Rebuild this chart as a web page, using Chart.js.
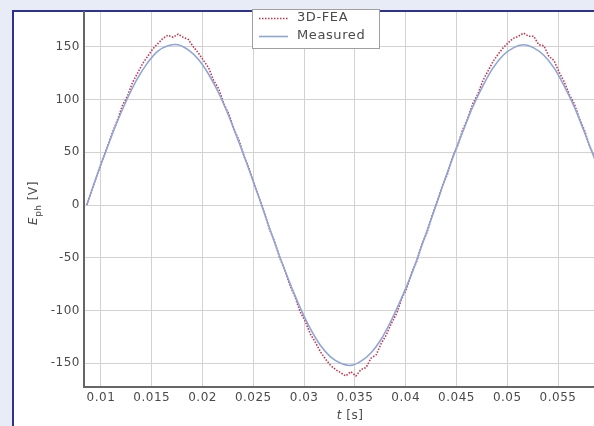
<!DOCTYPE html>
<html>
<head>
<meta charset="utf-8">
<script src="https://cdn.jsdelivr.net/npm/chart.js@4/dist/chart.umd.min.js"></script>
<style>
  html, body { margin: 0; padding: 0; overflow: hidden; }
  body { width: 594px; height: 426px; background: #e8ecf6; position: relative; }
  #frame { position: absolute; left: 12px; top: 10px; width: 600px; height: 430px;
           background: #fff; border-left: 2px solid #2e3290; border-top: 2px solid #2e3290; }
  #myChart { position: absolute; left: 0; top: 0; }
</style>
</head>
<body>
<div id="frame"></div>
<canvas id="myChart" width="594" height="426"></canvas>
<script>
// time axis values [s]
var tMeas = [0.0086, 0.0096, 0.0106, 0.0116, 0.0126, 0.0136, 0.0146, 0.0156, 0.0166, 0.0176,
  0.0186, 0.0196, 0.0206, 0.0216, 0.0226, 0.0236, 0.0246, 0.0256, 0.0266, 0.0276,
  0.0286, 0.0296, 0.0306, 0.0316, 0.0326, 0.0336, 0.0346, 0.0356, 0.0366, 0.0376,
  0.0386, 0.0396, 0.0406, 0.0416, 0.0426, 0.0436, 0.0446, 0.0456, 0.0466, 0.0476,
  0.0486, 0.0496, 0.0506, 0.0516, 0.0526, 0.0536, 0.0546, 0.0556, 0.0566, 0.0576, 0.0586];
var measured = [0, 28, 54, 79, 101, 120, 135, 146, 151, 152,
  147, 138, 124, 106, 84, 59, 33, 6, -22, -49,
  -74, -97, -117, -133, -144, -150, -152, -148, -140, -127,
  -109, -88, -65, -38, -11, 17, 44, 69, 93, 113,
  130, 142, 149, 152, 149, 142, 130, 113, 93, 69, 44];

var tFea = [0.0086, 0.0091, 0.0096, 0.0101, 0.0106, 0.0111, 0.0116, 0.0121, 0.0126, 0.0131,
  0.0136, 0.0141, 0.0146, 0.0151, 0.0156, 0.0161, 0.0166, 0.0171, 0.0176, 0.0181,
  0.0186, 0.0191, 0.0196, 0.0201, 0.0206, 0.0211, 0.0216, 0.0221, 0.0226, 0.0231,
  0.0236, 0.0241, 0.0246, 0.0251, 0.0256, 0.0261, 0.0266, 0.0271, 0.0276, 0.0281,
  0.0286, 0.0291, 0.0296, 0.0301, 0.0306, 0.0311, 0.0316, 0.0321, 0.0326, 0.0331,
  0.0336, 0.0341, 0.0346, 0.0351, 0.0356, 0.0361, 0.0366, 0.0371, 0.0376, 0.0381,
  0.0386, 0.0391, 0.0396, 0.0401, 0.0406, 0.0411, 0.0416, 0.0421, 0.0426, 0.0431,
  0.0436, 0.0441, 0.0446, 0.0451, 0.0456, 0.0461, 0.0466, 0.0471, 0.0476, 0.0481,
  0.0486, 0.0491, 0.0496, 0.0501, 0.0506, 0.0511, 0.0516, 0.0521, 0.0526, 0.0531,
  0.0536, 0.0541, 0.0546, 0.0551, 0.0556, 0.0561, 0.0566, 0.0571, 0.0576, 0.0581, 0.0586];
var fea = [0, 14, 28, 42, 54, 68, 80, 94, 103, 116,
  125, 134, 141, 148, 153, 158, 161, 159, 162, 159,
  157, 150, 144, 137, 130, 118, 110, 96, 86, 72,
  61, 46, 34, 19, 6, -8, -23, -35, -50, -62,
  -76, -87, -101, -110, -122, -130, -139, -146, -152, -156,
  -159, -162, -158, -162, -156, -154, -145, -142, -131, -123,
  -112, -103, -89, -79, -64, -53, -37, -26, -10, 3,
  18, 29, 45, 56, 71, 82, 96, 105, 118, 127,
  136, 143, 149, 154, 158, 160, 163, 160, 160, 152,
  151, 141, 137, 126, 117, 105, 96, 82, 71, 56, 45];

var xTicks = [0.01, 0.015, 0.02, 0.025, 0.03, 0.035, 0.04, 0.045, 0.05, 0.055];
var yTicks = [-150, -100, -50, 0, 50, 100, 150];
var seriesNames = ["3D-FEA", "Measured"];

var feaColor = "#c8334c";
var measColor = "#8ea6d6";
var textColor = "#4a4a4a";

function toPoints(xs, ys) {
  var pts = [];
  for (let i = 0; i < xs.length; i++) {
    pts.push({ x: xs[i], y: ys[i] });
  }
  return pts;
}

// axis titles + legend box
var extras = {
  id: "extras",
  beforeDraw: (chart) => {
    chart.ctx.letterSpacing = "0.5px";
  },
  afterDraw: (chart) => {
    let ctx = chart.ctx;
    ctx.save();
    ctx.letterSpacing = "0.5px";
    // x title
    ctx.fillStyle = textColor;
    ctx.textBaseline = "middle";
    ctx.font = "italic 12px 'DejaVu Sans', sans-serif";
    let w1 = ctx.measureText("t").width;
    ctx.font = "12px 'DejaVu Sans', sans-serif";
    let w2 = ctx.measureText(" [s]").width;
    let x0 = 350 - (w1 + w2) / 2;
    ctx.textAlign = "left";
    ctx.font = "italic 12px 'DejaVu Sans', sans-serif";
    ctx.fillText("t", x0, 416);
    ctx.font = "12px 'DejaVu Sans', sans-serif";
    ctx.fillText(" [s]", x0 + w1, 416);

    // y title, rotated
    ctx.translate(34, 203);
    ctx.rotate(-Math.PI / 2);
    ctx.font = "italic 12px 'DejaVu Sans', sans-serif";
    let a = ctx.measureText("E").width;
    ctx.font = "9px 'DejaVu Sans', sans-serif";
    let b = ctx.measureText("ph").width;
    ctx.font = "12px 'DejaVu Sans', sans-serif";
    let c = ctx.measureText(" [V]").width;
    let s = -(a + b + c) / 2;
    ctx.font = "italic 12px 'DejaVu Sans', sans-serif";
    ctx.fillText("E", s, 0);
    ctx.font = "9px 'DejaVu Sans', sans-serif";
    ctx.fillText("ph", s + a, 5);
    ctx.font = "12px 'DejaVu Sans', sans-serif";
    ctx.fillText(" [V]", s + a + b, 0);
    ctx.restore();

    // legend
    ctx.save();
    ctx.fillStyle = "#fff";
    ctx.fillRect(252, 10, 127, 39);
    ctx.strokeStyle = "#a0a0a0";
    ctx.lineWidth = 1;
    ctx.strokeRect(252.5, 9.5, 127, 39);
    ctx.lineWidth = 1.6;
    ctx.strokeStyle = feaColor;
    ctx.setLineDash([1.5, 1.5]);
    ctx.beginPath(); ctx.moveTo(259, 18.5); ctx.lineTo(288, 18.5); ctx.stroke();
    ctx.setLineDash([]);
    ctx.strokeStyle = measColor;
    ctx.beginPath(); ctx.moveTo(259, 36.5); ctx.lineTo(288, 36.5); ctx.stroke();
    ctx.fillStyle = textColor;
    ctx.letterSpacing = "0.6px";
    ctx.font = "13px 'DejaVu Sans', sans-serif";
    ctx.textAlign = "left";
    ctx.textBaseline = "middle";
    ctx.fillText(seriesNames[0], 297, 18);
    ctx.fillText(seriesNames[1], 297, 36);
    ctx.restore();
  }
};

new Chart("myChart", {
  type: "line",
  data: {
    datasets: [{
      label: seriesNames[1],
      data: toPoints(tMeas, measured),
      borderColor: measColor,
      borderWidth: 1.6,
      pointRadius: 0,
      tension: 0.35,
      fill: false
    }, {
      label: seriesNames[0],
      data: toPoints(tFea, fea),
      borderColor: feaColor,
      borderWidth: 1.6,
      borderDash: [1.5, 1.5],
      pointRadius: 0,
      tension: 0,
      fill: false
    }]
  },
  options: {
    responsive: false,
    animation: false,
    layout: { padding: { top: 12, left: 0, right: 0, bottom: 0 } },
    plugins: { legend: { display: false }, tooltip: { enabled: false } },
    scales: {
      x: {
        type: "linear",
        min: 0.00833,
        max: 0.05854,
        afterFit: (scale) => { scale.height = 39 },
        afterBuildTicks: (scale) => { scale.ticks = xTicks.map(v => ({ value: v })) },
        ticks: {
          color: textColor,
          font: { size: 12, family: "'DejaVu Sans', sans-serif" },
          padding: 4,
          maxRotation: 0,
          autoSkip: false,
          callback: (v) => String(v)
        },
        grid: { color: "#d2d2d2", lineWidth: 1, drawTicks: false },
        border: { color: "#666", width: 2 }
      },
      y: {
        min: -172.5,
        max: 183,
        afterFit: (scale) => { scale.width = 84 },
        afterBuildTicks: (scale) => { scale.ticks = yTicks.map(v => ({ value: v })) },
        ticks: {
          color: textColor,
          font: { size: 12, family: "'DejaVu Sans', sans-serif" },
          padding: 4,
          autoSkip: false,
          callback: (v) => String(v)
        },
        grid: { color: "#d2d2d2", lineWidth: 1, drawTicks: false },
        border: { color: "#666", width: 2 }
      }
    }
  },
  plugins: [extras]
});
</script>
</body>
</html>
